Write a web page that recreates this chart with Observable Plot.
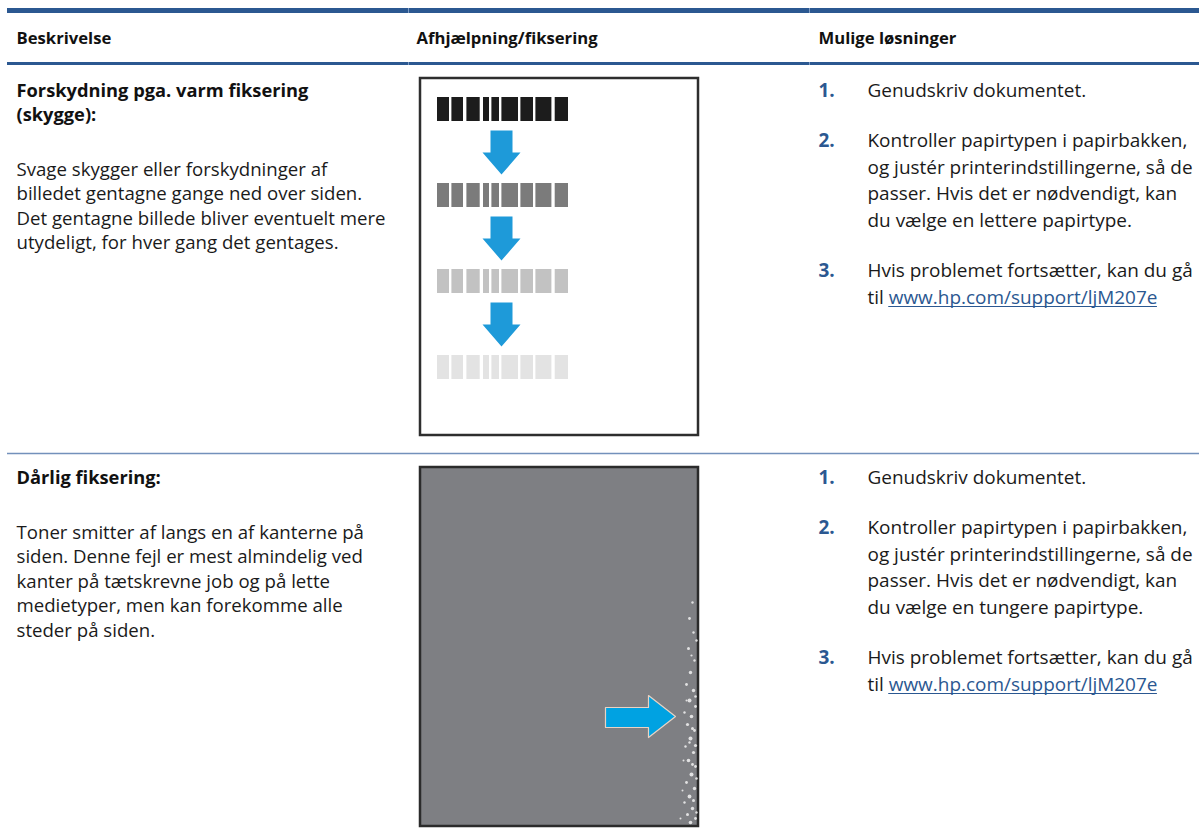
<!DOCTYPE html>
<html>
<head>
<meta charset="utf-8">
<script src="https://cdn.jsdelivr.net/npm/d3@7"></script>
<script src="https://cdn.jsdelivr.net/npm/@observablehq/plot@0.6"></script>
<style>
html, body { margin: 0; padding: 0; background: #ffffff; }
#chart svg { display: block; }
</style>
</head>
<body>
<div id="chart"></div>
<script>
// ---------------- DATA (text content) ----------------
const headers = ["Beskrivelse", "Afhjælpning/fiksering", "Mulige løsninger"];

const rowTitles = [
  ["Forskydning pga. varm fiksering", "(skygge):"],
  ["Dårlig fiksering:"]
];

const rowDescriptions = [
  ["Svage skygger eller forskydninger af",
   "billedet gentagne gange ned over siden.",
   "Det gentagne billede bliver eventuelt mere",
   "utydeligt, for hver gang det gentages."],
  ["Toner smitter af langs en af kanterne på",
   "siden. Denne fejl er mest almindelig ved",
   "kanter på tætskrevne job og på lette",
   "medietyper, men kan forekomme alle",
   "steder på siden."]
];

const stepNumbers = ["1.", "2.", "3."];

const solutionSteps = [
  [["Genudskriv dokumentet."],
   ["Kontroller papirtypen i papirbakken,",
    "og justér printerindstillingerne, så de",
    "passer. Hvis det er nødvendigt, kan",
    "du vælge en lettere papirtype."],
   ["Hvis problemet fortsætter, kan du gå",
    "til "]],
  [["Genudskriv dokumentet."],
   ["Kontroller papirtypen i papirbakken,",
    "og justér printerindstillingerne, så de",
    "passer. Hvis det er nødvendigt, kan",
    "du vælge en tungere papirtype."],
   ["Hvis problemet fortsætter, kan du gå",
    "til "]]
];

const linkText = "www.hp.com/support/ljM207e";

// ghost image pictogram: shade of each repeated bar (darkest first)
const ghostShades = ["#1c1c1c", "#7b7b7b", "#c2c2c2", "#e3e3e3"];

// ---------------- LAYOUT ----------------
const W = 1199, H = 840;
const BLUE = "#2b5891";
const FAMILY = "Open Sans";
const FONT = "'Open Sans', 'Noto Sans', sans-serif";
const colX = [16, 416];
const numX = 818, stepX = 867;
const colSep = [408, 809];
const headerBaseline = 43;
const rowTop = [66, 453];
const titleOffset = 30, titleLH = 24;
const descGap = 55, descLH = 24.5;
const stepLH = 26.5, stepGap = 24;

// fit font sizes to the widths measured on the reference
const canvas = document.createElement("canvas");
const ctx = canvas.getContext("2d");
function widthAt(text, weight, size) {
  ctx.font = `${weight} ${size}px '${FAMILY}'`;
  return ctx.measureText(text).width;
}
function fitSize(text, weight, target) {
  return 100 * target / widthAt(text, weight, 100);
}
const descSize = fitSize(rowDescriptions[0][0], 400, 311);
const stepSize = fitSize(solutionSteps[0][1][0], 400, 320);
const headSize = fitSize(headers[2], 700, 138);
const titleSize = fitSize(rowTitles[0][0], 700, 292);

// ghost pictogram geometry
const barX0 = 437, barW = 131, barH = 24;
const barTops = [97, 183, 269, 355];
const segEdges = [[0,12],[14.4,26],[29.4,42.7],[46,52],[54.4,62],[64.4,81],[83.4,96],[98.4,114.4],[117.7,131]];
const arrowCx = 501;
const frame1 = {x1: 420, x2: 698, y1: 78, y2: 435};
const frame2 = {x1: 420, x2: 698, y1: 467, y2: 826};

// ---------------- BUILD MARK DATA ----------------
const headTexts = headers.map((t, i) => ({x: [16, 416, 818][i], y: headerBaseline, text: t}));

const titleTexts = [];
const descTexts = [];
rowTitles.forEach((lines, r) => {
  const base = rowTop[r] + titleOffset;
  lines.forEach((t, i) => titleTexts.push({x: colX[0], y: base + i * titleLH, text: t}));
  const descStart = base + (lines.length - 1) * titleLH + descGap;
  rowDescriptions[r].forEach((t, i) => descTexts.push({x: colX[0], y: descStart + i * descLH, text: t}));
});

const numTexts = [];
const stepTexts = [];
const linkTexts = [];
const linkRules = [];
solutionSteps.forEach((steps, r) => {
  let y = rowTop[r] + titleOffset;
  steps.forEach((lines, s) => {
    numTexts.push({x: numX, y, text: stepNumbers[s]});
    lines.forEach((t, i) => {
      const yy = y + i * stepLH;
      stepTexts.push({x: stepX, y: yy, text: t});
      if (s === 2 && i === lines.length - 1) {
        const lx = stepX + widthAt(t, 400, stepSize);
        const lw = widthAt(linkText, 400, stepSize);
        linkTexts.push({x: lx, y: yy, text: linkText});
        linkRules.push({x1: lx, x2: lx + lw, y: yy + 3});
      }
    });
    y += lines.length * stepLH + stepGap;
  });
});

// ghost bars
const ghostRects = [];
barTops.forEach((top, r) => {
  segEdges.forEach(([a, b]) => ghostRects.push({x1: barX0 + a, x2: barX0 + b, y1: top, y2: top + barH, fill: ghostShades[r]}));
});

// down arrows between bars
const downArrows = [];
for (let k = 0; k < barTops.length - 1; k++) {
  const gapMid = (barTops[k] + barH + barTops[k + 1]) / 2;
  const t = gapMid - 22;
  const pts = [[-11, 0], [11, 0], [11, 22], [19, 22], [0, 44], [-19, 22], [-11, 22], [-11, 0]];
  pts.forEach(([dx, dy]) => downArrows.push({x: arrowCx + dx, y: t + dy, id: k}));
}

// right arrow on grey page
const rightArrow = [[605,707],[648,707],[648,695],[675,716],[648,737],[648,727],[605,727],[605,707]].map(([x, y]) => ({x, y}));

// toner speckles along the right edge
const speckles = [
  [692,602,1.2],[689,618,1.4],[693,632,1.2],[688,648,1.5],[694,660,1.2],[690,672,1.7],[686,684,1.4],
  [693,690,1.7],[689,700,2],[695,706,1.4],[684,712,1.2],[691,716,1.8],[687,724,1.6],[694,730,1.4],
  [690,738,2],[685,746,1.2],[693,752,1.6],[688,760,1.8],[695,766,1.4],[691,774,2],[686,782,1.4],
  [694,788,1.7],[689,796,1.9],[684,802,1.2],[692,808,1.7],[687,814,1.5],[695,818,1.4],[690,822,1.8],
  [682,790,1],[683,760,1],[680,818,1],[686,700,1],[696,640,1.2],[691,655,1.1],[695,745,1.6],
  [695,696,1.3],[692,728,1.5],[696,778,1.3],[693,800,1.5],[696,812,1.2],[689,742,1.2],[692,764,1.4]
].map(([x, y, r]) => ({x, y, r}));

// ---------------- PLOT ----------------
const textBase = {x: "x", y: "y", text: "text", textAnchor: "start", lineAnchor: "bottom", fontFamily: FONT};

const chart = Plot.plot({
  width: W,
  height: H,
  margin: 0,
  x: {domain: [0, W], range: [0, W], axis: null},
  y: {domain: [0, H], range: [0, H], axis: null},
  r: {type: "identity"},
  style: {background: "#ffffff"},
  marks: [
    // top bar & header rule
    Plot.rect([{x1: 7, x2: W, y1: 8, y2: 13}], {x1: "x1", x2: "x2", y1: "y1", y2: "y2", fill: BLUE}),
    Plot.rect([{x1: 7, x2: W, y1: 62, y2: 65}], {x1: "x1", x2: "x2", y1: "y1", y2: "y2", fill: BLUE}),
    Plot.ruleX(colSep, {x: d => d, y1: 8, y2: 13, stroke: "#7f9cc4", strokeWidth: 1}),
    Plot.ruleX(colSep, {x: d => d, y1: 62, y2: 65, stroke: "#7f9cc4", strokeWidth: 1}),
    // row separator
    Plot.ruleY([rowTop[1]], {y: d => d, x1: 7, x2: W, stroke: "#7391bb", strokeWidth: 1.5}),

    Plot.text(headTexts, {...textBase, fontWeight: 700, fontSize: headSize, fill: "#111"}),
    Plot.text(titleTexts, {...textBase, fontWeight: 700, fontSize: titleSize, fill: "#111"}),
    Plot.text(descTexts, {...textBase, fontWeight: 400, fontSize: descSize, fill: "#1a1a1a"}),
    Plot.text(numTexts, {...textBase, fontWeight: 700, fontSize: stepSize, fill: BLUE}),
    Plot.text(stepTexts, {...textBase, fontWeight: 400, fontSize: stepSize, fill: "#1a1a1a"}),
    Plot.text(linkTexts, {...textBase, fontWeight: 400, fontSize: stepSize, fill: BLUE}),
    Plot.ruleY(linkRules, {y: "y", x1: "x1", x2: "x2", stroke: BLUE, strokeWidth: 1}),

    // picture 1: ghosting page
    Plot.rect([frame1], {x1: "x1", x2: "x2", y1: "y1", y2: "y2", fill: "#ffffff", stroke: "#2e2e2e", strokeWidth: 2.5}),
    Plot.rect(ghostRects, {x1: "x1", x2: "x2", y1: "y1", y2: "y2", fill: "fill"}),
    Plot.line(downArrows, {x: "x", y: "y", z: "id", fill: "#1e9ad9", stroke: "none"}),

    // picture 2: poor fusing page
    Plot.rect([frame2], {x1: "x1", x2: "x2", y1: "y1", y2: "y2", fill: "#7e7f83", stroke: "#2b2b2b", strokeWidth: 2.5}),
    Plot.dot(speckles, {x: "x", y: "y", r: "r", fill: "#ececec", fillOpacity: 0.9, stroke: "none"}),
    Plot.line(rightArrow, {x: "x", y: "y", fill: "#00a2e2", stroke: "#e9d3c4", strokeWidth: 1.2})
  ]
});

document.getElementById("chart").appendChild(chart);
</script>
</body>
</html>
